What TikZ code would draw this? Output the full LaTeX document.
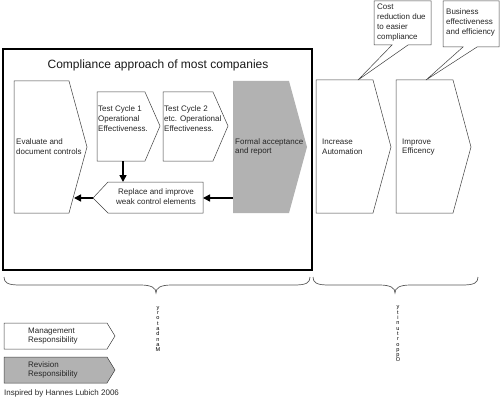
\documentclass[tikz,border=0pt]{standalone}
\usepackage{fontspec}
\setmainfont{Liberation Sans}
\usetikzlibrary{arrows.meta}
\begin{document}
\begin{tikzpicture}[x=1pt,y=-1pt,
  shp/.style={draw=black!75, line width=0.5pt, fill=white},
  gshp/.style={fill=black!30, draw=none},
  gbshp/.style={fill=black!30, draw=black!75, line width=0.5pt},
  lbl/.style={font=\fontsize{8}{9.8}\selectfont, align=left, text=black!85, inner sep=0pt},
  clbl/.style={lbl, align=center},
  arr/.style={-{Triangle[length=7pt,width=7pt]}, line width=1.6pt},
  brc/.style={draw=black!65, line width=0.7pt},
  vtxt/.style={font=\fontsize{5.6}{5.3}\selectfont, align=center, inner sep=0pt, text=black}]
\useasboundingbox (0,0) rectangle (500,401);
% frame
\draw[line width=2.5pt] (3,49) rectangle (312,270);
\node[font=\fontsize{12}{13}\selectfont, text=black!90] (title) at (158,65) {Compliance approach of most companies};
% shapes
\draw[shp] (14,81) -- (69,81) -- (87,147) -- (69,213) -- (14,213) -- cycle;
\node[lbl, anchor=west] (eval) at (16,147) {Evaluate and\\document controls};
\draw[shp] (97,92) -- (145,92) -- (160,126) -- (145,161) -- (97,161) -- cycle;
\node[lbl, anchor=north west] (tc1) at (98,106) {Test Cycle 1\\Operational\\Effectiveness.};
\draw[shp] (163,92) -- (213,92) -- (228,126) -- (213,161) -- (163,161) -- cycle;
\node[lbl, anchor=north west] (tc2) at (164,106) {Test Cycle 2\\etc. Operational\\Effectiveness.};
\draw[gshp] (233,81) -- (289,81) -- (307,147) -- (289,213) -- (233,213) -- cycle;
\node[lbl, anchor=west] (formal) at (235,147) {Formal acceptance\\and report};
\draw[shp] (93,198) -- (108,182) -- (203,182) -- (203,213) -- (108,213) -- cycle;
\node[clbl] (repl) at (156,197) {Replace and improve\\weak control elements};
\draw[shp] (316,80) -- (373,80) -- (391,147) -- (373,213) -- (316,213) -- cycle;
\node[lbl, anchor=west] (auto) at (322,147) {Increase\\Automation};
\draw[shp] (396,80) -- (453,80) -- (471,147) -- (453,213) -- (396,213) -- cycle;
\node[lbl, anchor=west] (eff) at (402,147) {Improve\\Efficency};
% callouts
\draw[shp] (374,1) -- (431,1) -- (431,45) -- (408,45) -- (358,80) -- (392,45) -- (374,45) -- cycle;
\node[lbl, anchor=north west] (cost) at (377,4) {Cost\\reduction due\\to easier\\compliance};
\draw[shp] (443,1) -- (499,1) -- (499,47) -- (477,47) -- (426,80) -- (463,47) -- (443,47) -- cycle;
\node[lbl, anchor=north west] (bus) at (446,9) {Business\\effectiveness\\and efficiency};
% connector anchors
\coordinate (tc1b) at (123,161);
\coordinate (replt) at (123,182);
\coordinate (forml) at (233,198);
\coordinate (replr) at (203,198);
\coordinate (repltip) at (93,198);
\coordinate (evalr) at (74,198);
\draw[arr] (tc1b) -- (replt);
\draw[arr] (forml) -- (replr);
\draw[arr] (repltip) -- (evalr);
% braces
\draw[brc] (4,277) .. controls (4,283) and (8,285) .. (20,285) -- (140,285) .. controls (152,285) and (156,288) .. (156,293) .. controls (156,288) and (160,285) .. (172,285) -- (294,285) .. controls (306,285) and (310,283) .. (310,277);
\draw[brc] (313,277) .. controls (313,283) and (317,285) .. (329,285) -- (379,285) .. controls (391,285) and (395,288) .. (395,293) .. controls (395,288) and (399,285) .. (411,285) -- (462,285) .. controls (474,285) and (478,283) .. (478,277);
\node[vtxt] (mand) at (158,329) {y\\r\\o\\t\\a\\d\\n\\a\\M};
\node[vtxt] (opp) at (398,334) {y\\t\\i\\n\\u\\t\\r\\o\\p\\p\\O};
% legend
\draw[shp] (4,323) -- (107,323) -- (115,336) -- (107,349) -- (4,349) -- cycle;
\node[lbl, anchor=west] (mgmt) at (28,336) {Management\\Responsibility};
\draw[gbshp] (4,357) -- (107,357) -- (115,370) -- (107,383) -- (4,383) -- cycle;
\node[lbl, anchor=west] (rev) at (28,370) {Revision\\Responsibility};
\node[lbl, anchor=west] (insp) at (4,393) {Inspired by Hannes Lubich 2006};
\end{tikzpicture}
\end{document}
